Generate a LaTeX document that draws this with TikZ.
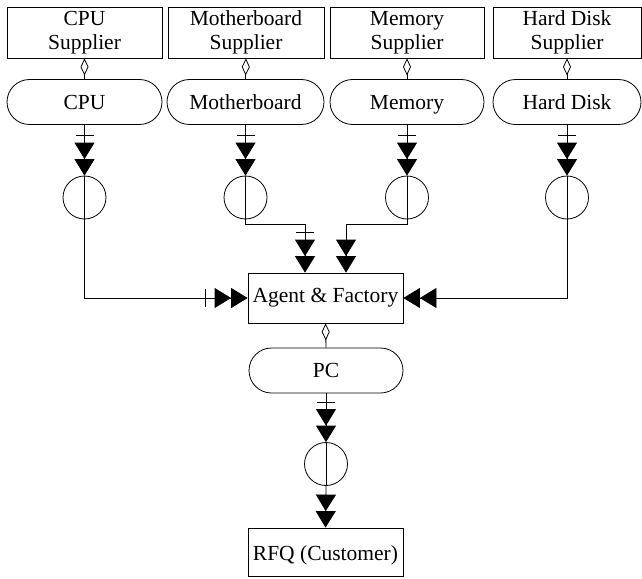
\documentclass[tikz,border=0pt]{standalone}
\usepackage{fontspec}
\setmainfont{Liberation Serif}
\usetikzlibrary{arrows.meta,calc}
\begin{document}
\begin{tikzpicture}[x=1pt,y=-1pt,
  every node/.style={font=\fontsize{21.5}{24}\selectfont, inner sep=0pt},
  sup/.style={draw, line width=0.8pt, rectangle, minimum width=155pt, minimum height=51pt, align=center},
  pill/.style={draw, text height=17pt, text depth=3pt, line width=0.8pt, rectangle, rounded corners=22.5pt, minimum width=155pt, minimum height=45pt},
  circ/.style={draw, line width=0.8pt, circle, minimum size=43pt},
  box/.style={draw, text height=14pt, text depth=5pt, line width=0.8pt, rectangle, minimum width=155pt, minimum height=50pt},
  conn/.style={line width=0.8pt},
  agg/.style={conn, {Diamond[open,length=17pt,width=8pt]}-},
  dbl/.style={conn, -{Triangle[length=16.5pt,width=20pt]Triangle[length=16.5pt,width=20pt]}},
]
\useasboundingbox (0,0) rectangle (642,578);
% suppliers
\node[sup] (s1) at (84.5,32.5) {CPU\\Supplier};
\node[sup, minimum width=156pt] (s2) at (246,32.5) {Motherboard\\Supplier};
\node[sup, minimum width=154pt] (s3) at (407,32.5) {Memory\\Supplier};
\node[sup, minimum width=148pt] (s4) at (567,32.5) {Hard Disk\\Supplier};
% pills
\node[pill] (p1) at (84.5,102) {CPU};
\node[pill, minimum width=157pt] (p2) at (245.5,102) {Motherboard};
\node[pill, minimum width=154pt] (p3) at (407,102) {Memory};
\node[pill, minimum width=148pt] (p4) at (567,102) {Hard Disk};
% circles
\node[circ] (c1) at (84.5,197.5) {};
\node[circ] (c2) at (245.5,197.5) {};
\node[circ] (c3) at (407,197.5) {};
\node[circ] (c4) at (567,197.5) {};
% agent
\node[box] (ag) at (325.5,298) {Agent \& Factory};
\node[pill, minimum width=154pt] (pc) at (326,370.5) {PC};
\node[circ] (c5) at (326,464) {};
\node[box, minimum height=48pt, text height=18pt, text depth=1pt] (rfq) at (325.5,552) {RFQ (Customer)};
% supplier -> pill
\foreach \i in {1,2,3,4} {
  \draw[agg] (s\i.south) -- (p\i.north);
  \draw[dbl] (p\i.south) -- (c\i.north);
  \draw[conn] ($(p\i.south)+(-9,10)$) -- ++(18,0);
  \draw[conn] (c\i.north) -- (c\i.south);
}
% to agent
\draw[dbl] (c1.south) |- (ag.west);
\draw[conn] (205,289) -- (205,307);
\draw[dbl] (c2.south) -- ++(0,5) -| ($(ag.north)+(-20.5,0)$);
\draw[conn] (296,232) -- (314,232);
\draw[dbl] (c3.south) -- ++(0,5) -| ($(ag.north)+(20.5,0)$);
\draw[dbl] (c4.south) |- (ag.east);
% bottom chain
\draw[agg] (ag.south) -- (pc.north);
\draw[dbl] (pc.south) -- (c5.north);
\draw[conn] ($(pc.south)+(-9,9)$) -- ++(18,0);
\draw[conn] (c5.north) -- (c5.south);
\draw[dbl] (c5.south) -- (rfq.north);
\end{tikzpicture}
\end{document}
